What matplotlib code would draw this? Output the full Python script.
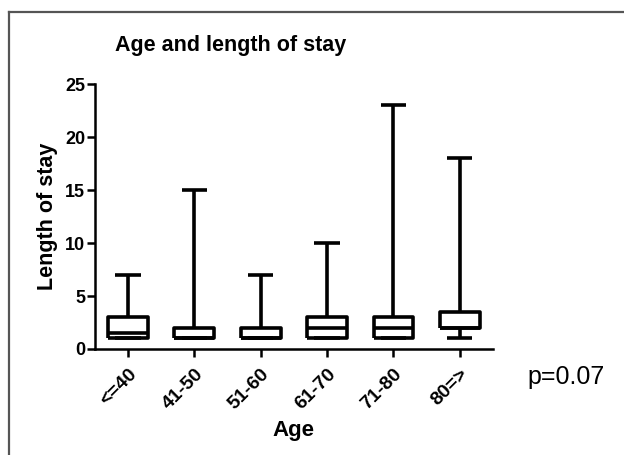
import matplotlib
matplotlib.use("Agg")
import matplotlib.pyplot as plt
from matplotlib.lines import Line2D

plt.rcParams['font.family'] = ['Liberation Sans', 'DejaVu Sans']

# box summaries
age_groups = ['<=40', '41-50', '51-60', '61-70', '71-80', '80=>']
mins = [1, 1, 1, 1, 1, 1]
q1s = [1, 1, 1, 1, 1, 2]
medians = [1.5, 1, 1, 2, 2, 2]
q3s = [3, 2, 2, 3, 3, 3.5]
maxs = [7, 15, 7, 10, 23, 18]
y_ticks = [0, 5, 10, 15, 20, 25]

stats = []
for i in range(len(age_groups)):
    stats.append(dict(label=age_groups[i], whislo=mins[i], q1=q1s[i], med=medians[i],
                      q3=q3s[i], whishi=maxs[i], fliers=[]))

fig = plt.figure(figsize=(6.24, 4.55), dpi=100)
ax = fig.add_axes([0.152, 0.233, 0.638, 0.582])

lw = 2.6
line = dict(color='black', linewidth=lw, solid_capstyle='butt', solid_joinstyle='round')
ax.bxp(stats, positions=range(1, len(age_groups) + 1), widths=0.6, showfliers=False,
       boxprops=line, whiskerprops=line, capprops=line, medianprops=line,
       capwidths=0.38)

ax.set_xlim(0.5, 6.5)
ax.set_ylim(0, 25)
ax.set_yticks(y_ticks)
ax.set_yticklabels([str(t) for t in y_ticks], fontsize=13, fontweight='bold')
ax.set_xticks(range(1, len(age_groups) + 1))
ax.set_xticklabels(age_groups, rotation=45, ha='right', rotation_mode='anchor',
                   fontsize=14, fontweight='bold')

for side in ['top', 'right']:
    ax.spines[side].set_visible(False)
for side in ['left', 'bottom']:
    ax.spines[side].set_linewidth(1.8)
ax.tick_params(axis='both', width=1.8, length=6, direction='out')
ax.tick_params(axis='y', pad=1)
ax.tick_params(axis='x', pad=6)

ax.set_xlabel('Age', fontsize=16, fontweight='bold', labelpad=5)
ax.set_ylabel('Length of stay', fontsize=15.5, fontweight='bold', labelpad=5)

fig.text(0.369, 0.90, 'Age and length of stay', ha='center', va='center',
         fontsize=15.5, fontweight='bold')
fig.text(0.907, 0.171, 'p=0.07', ha='center', va='center', fontsize=18)

# grey frame lines along the top and left edge of the image
frame = dict(color='#555555', linewidth=1.6, transform=fig.transFigure)
fig.add_artist(Line2D([0.0145, 1.0], [0.974, 0.974], **frame))
fig.add_artist(Line2D([0.0145, 0.0145], [0.0, 0.974], **frame))

fig.savefig('out.png', dpi=100)
